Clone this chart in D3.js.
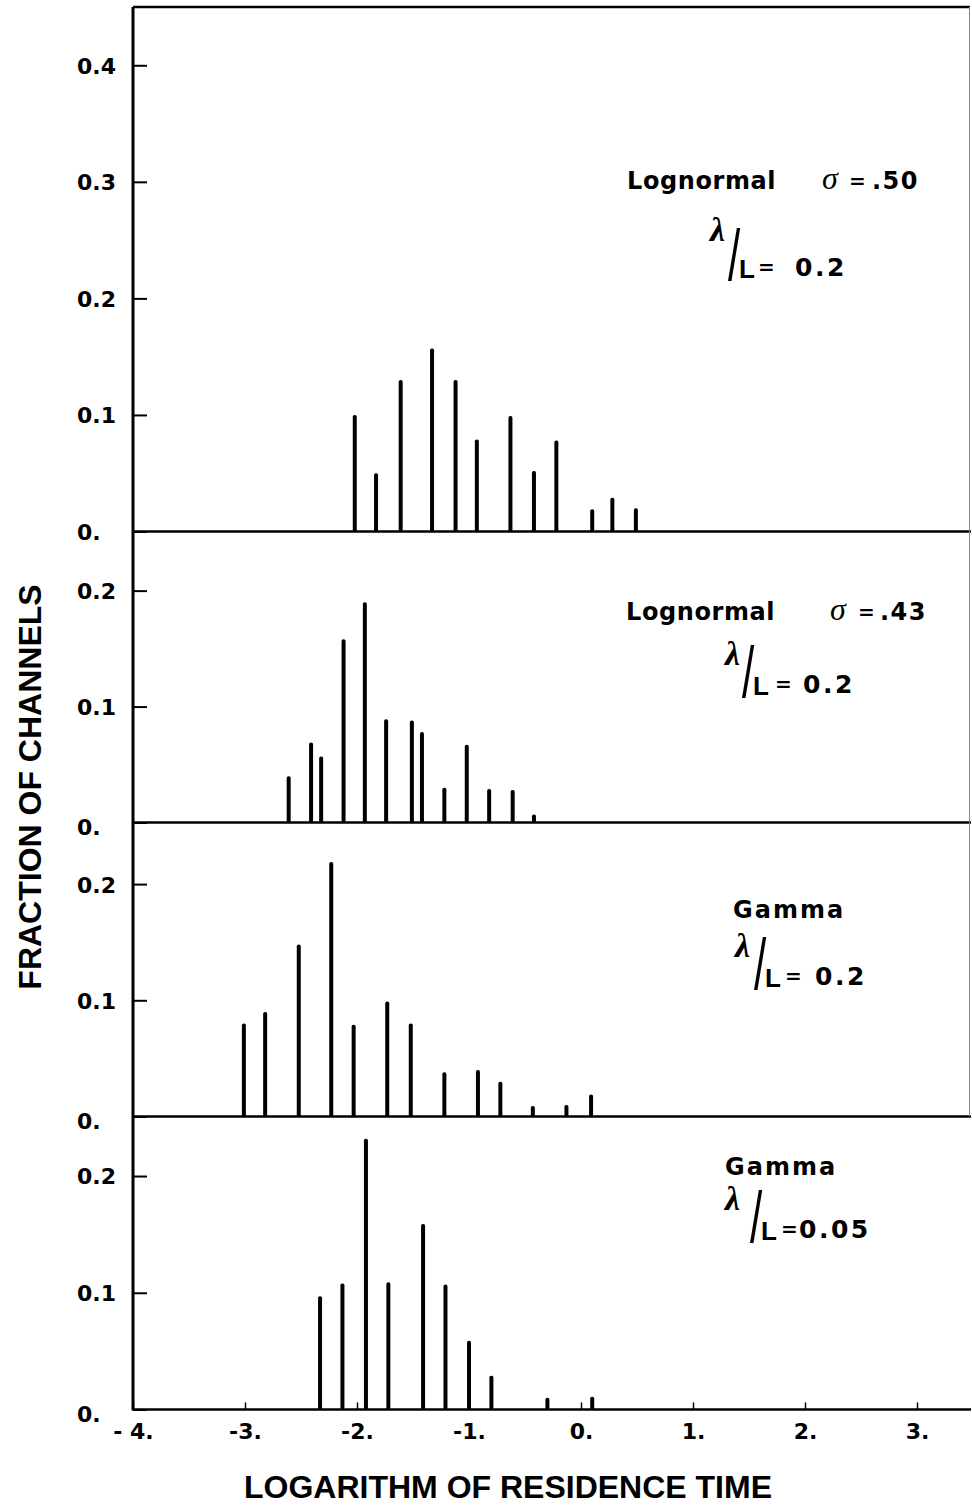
<!DOCTYPE html>
<html>
<head>
<meta charset="utf-8">
<script src="https://cdn.jsdelivr.net/npm/d3@7"></script>
<style>
  html, body { margin: 0; padding: 0; background: #fff; }
  svg { display: block; }
</style>
</head>
<body>
<script>
// Residence-time histograms, four stacked panels sharing one log-time axis.

// ---- data ----
const P1_X = [-2.02, -1.83, -1.61, -1.33, -1.12, -0.93, -0.63, -0.42, -0.22, 0.10, 0.28, 0.49];
const P1_Y = [0.100, 0.050, 0.130, 0.157, 0.130, 0.079, 0.099, 0.052, 0.078, 0.019, 0.029, 0.020];

const P2_X = [-2.61, -2.41, -2.32, -2.12, -1.93, -1.74, -1.51, -1.42, -1.22, -1.02, -0.82, -0.61, -0.42];
const P2_Y = [0.040, 0.069, 0.057, 0.158, 0.190, 0.089, 0.088, 0.078, 0.030, 0.067, 0.029, 0.028, 0.007];

const P3_X = [-3.01, -2.82, -2.52, -2.23, -2.03, -1.73, -1.52, -1.22, -0.92, -0.72, -0.43, -0.13, 0.09];
const P3_Y = [0.080, 0.090, 0.148, 0.219, 0.079, 0.099, 0.080, 0.038, 0.040, 0.030, 0.009, 0.010, 0.019];

const P4_X = [-2.33, -2.13, -1.92, -1.72, -1.41, -1.21, -1.00, -0.80, -0.30, 0.10];
const P4_Y = [0.097, 0.108, 0.232, 0.109, 0.159, 0.107, 0.059, 0.029, 0.010, 0.011];

const X_TICKS = [-4, -3, -2, -1, 0, 1, 2, 3];
const X_TICK_LABELS = ["- 4.", "-3.", "-2.", "-1.", "0.", "1.", "2.", "3."];

const Y_TICKS_TALL = [0, 0.1, 0.2, 0.3, 0.4];
const Y_TICK_LABELS_TALL = ["0.", "0.1", "0.2", "0.3", "0.4"];
const Y_TICKS = [0, 0.1, 0.2];
const Y_TICK_LABELS = ["0.", "0.1", "0.2"];

const LEGEND_NAMES = ["Lognormal", "Lognormal", "Gamma", "Gamma"];
const LEGEND_SIGMA = [".50", ".43", null, null];
const LEGEND_RATIO = ["0.2", "0.2", "0.2", "0.05"];

const X_TITLE = "LOGARITHM OF RESIDENCE TIME";
const Y_TITLE = "FRACTION OF CHANNELS";

// ---- layout ----
const W = 972, H = 1507;
const LEFT = 133, RIGHT = 971;
const panels = [
  { xs: P1_X, ys: P1_Y, top: 7, base: 531.5, yMax: 0.45, ticks: Y_TICKS_TALL, labels: Y_TICK_LABELS_TALL,
    name: [627, 189], sigmaX: 822, eqX: 849, valX: 872,
    ratio: [710, 278], lamDy: -37, lx: 29, ex: 48, vx: 85 },
  { xs: P2_X, ys: P2_Y, top: 531.5, base: 822.5, yMax: 0.251, ticks: Y_TICKS, labels: Y_TICK_LABELS,
    name: [626, 620], sigmaX: 830, eqX: 858, valX: 880,
    ratio: [725, 695], lamDy: -30, lx: 28, ex: 50, vx: 78 },
  { xs: P3_X, ys: P3_Y, top: 822.5, base: 1116.5, yMax: 0.253, ticks: Y_TICKS, labels: Y_TICK_LABELS,
    name: [733, 918], ratio: [735, 987], lamDy: -30, lx: 30, ex: 50, vx: 80 },
  { xs: P4_X, ys: P4_Y, top: 1116.5, base: 1409.5, yMax: 0.251, ticks: Y_TICKS, labels: Y_TICK_LABELS,
    name: [725, 1175], ratio: [725, 1240], lamDy: -30, lx: 36, ex: 56, vx: 74 },
];

const BOLD = "'DejaVu Sans', sans-serif";
const TITLE_FONT = "'Liberation Sans', Arial, sans-serif";
const SERIF = "'Liberation Serif', 'Times New Roman', serif";

const svg = d3.select("body").append("svg")
  .attr("width", W)
  .attr("height", H)
  .attr("viewBox", `0 0 ${W} ${H}`);

const x = d3.scaleLinear().domain([-4, 3.5]).range([LEFT, LEFT + 112 * 7.5]);

function boldText(sel, size, spacing) {
  return sel.style("font-family", BOLD).style("font-weight", "bold")
    .style("font-size", size + "px").style("letter-spacing", spacing + "px");
}

panels.forEach((p, i) => {
  const y = d3.scaleLinear().domain([0, p.yMax]).range([p.base, p.top]);
  const g = svg.append("g");

  // inward ticks, labels left-aligned in the margin
  const ax = g.append("g")
    .attr("transform", `translate(${LEFT},0)`)
    .call(d3.axisLeft(y).tickValues(p.ticks).tickSize(-14).tickPadding(0)
      .tickFormat((d, k) => p.labels[k]));
  ax.select(".domain").remove();
  ax.selectAll(".tick line").attr("stroke", "#000").attr("stroke-width", 2);
  ax.selectAll(".tick text")
    .attr("x", 77 - LEFT)
    .attr("text-anchor", "start")
    .attr("dy", (d) => d === 0 && i > 0 ? "0.55em" : "0.36em")
    .style("font-family", BOLD)
    .style("font-weight", "bold")
    .style("font-size", "22px")
    .attr("fill", "#000");

  // spikes
  const pts = p.xs.map((v, k) => ({ v, f: p.ys[k] }));
  g.append("g")
    .selectAll("rect")
    .data(pts)
    .join("rect")
    .attr("x", (d) => x(d.v) - 2)
    .attr("y", (d) => y(d.f))
    .attr("width", 4)
    .attr("height", (d) => y(0) - y(d.f))
    .attr("rx", 1.8)
    .attr("fill", "#000");

  // baseline / panel separator
  g.append("line")
    .attr("x1", LEFT).attr("x2", RIGHT)
    .attr("y1", y(0)).attr("y2", y(0))
    .attr("stroke", "#000")
    .attr("stroke-width", 2.5);

  // legend: name (+ sigma)
  boldText(g.append("text").attr("x", p.name[0]).attr("y", p.name[1]), 24, i < 2 ? 0.6 : 2)
    .text(LEGEND_NAMES[i]);
  if (LEGEND_SIGMA[i]) {
    g.append("text")
      .attr("x", p.sigmaX).attr("y", p.name[1])
      .style("font-family", SERIF).style("font-style", "italic")
      .style("font-size", "32px")
      .text("σ");
    boldText(g.append("text").attr("x", p.eqX).attr("y", p.name[1] - 1), 20, 0).text("=");
    boldText(g.append("text").attr("x", p.valX).attr("y", p.name[1]), 24, 1.5).text(LEGEND_SIGMA[i]);
  }

  // legend: lambda / L = value
  const r = g.append("g").attr("transform", `translate(${p.ratio[0]},${p.ratio[1]})`);
  r.append("text")
    .attr("x", 0).attr("y", p.lamDy)
    .style("font-family", SERIF).style("font-style", "italic").style("font-weight", "bold")
    .style("font-size", "34px")
    .text("λ");
  r.append("text")
    .attr("transform", `translate(${p.lx - 11},2) scale(1,1.65)`)
    .style("font-family", TITLE_FONT)
    .style("font-size", "44px")
    .text("/");
  r.append("text")
    .attr("x", p.lx).attr("y", 0)
    .style("font-family", TITLE_FONT).style("font-weight", "bold")
    .style("font-size", "26px")
    .text("L");
  boldText(r.append("text").attr("x", p.ex).attr("y", -4), 20, 0).text("=");
  boldText(r.append("text").attr("x", p.vx).attr("y", -2), 25, 2.5).text(LEGEND_RATIO[i]);
});

// frame: left axis, top and right border
svg.append("line")
  .attr("x1", LEFT).attr("x2", LEFT)
  .attr("y1", panels[0].top).attr("y2", panels[3].base + 1)
  .attr("stroke", "#000").attr("stroke-width", 3);
svg.append("line")
  .attr("x1", LEFT).attr("x2", 970)
  .attr("y1", panels[0].top).attr("y2", panels[0].top)
  .attr("stroke", "#000").attr("stroke-width", 2.5);
svg.append("line")
  .attr("x1", 969.5).attr("x2", 969.5)
  .attr("y1", panels[0].top).attr("y2", panels[2].base)
  .attr("stroke", "#888").attr("stroke-width", 1);

// bottom x axis: short upward ticks, labels below
const xa = svg.append("g")
  .attr("transform", `translate(0,${panels[3].base})`)
  .call(d3.axisBottom(x).tickValues(X_TICKS).tickSize(-7).tickPadding(14)
    .tickFormat((d, k) => X_TICK_LABELS[k]));
xa.select(".domain").remove();
xa.selectAll(".tick line").attr("stroke", "#000").attr("stroke-width", 1.5);
xa.selectAll(".tick text")
  .attr("fill", "#000")
  .style("font-family", BOLD)
  .style("font-weight", "bold")
  .style("font-size", "22px");

// axis titles
svg.append("text")
  .attr("x", 508).attr("y", 1498)
  .attr("text-anchor", "middle")
  .style("font-family", TITLE_FONT).style("font-weight", "bold")
  .style("font-size", "32px")
  .text(X_TITLE);
svg.append("text")
  .attr("transform", "translate(41,787) rotate(-90)")
  .attr("text-anchor", "middle")
  .style("font-family", TITLE_FONT).style("font-weight", "bold")
  .style("font-size", "32px")
  .text(Y_TITLE);
</script>
</body>
</html>
